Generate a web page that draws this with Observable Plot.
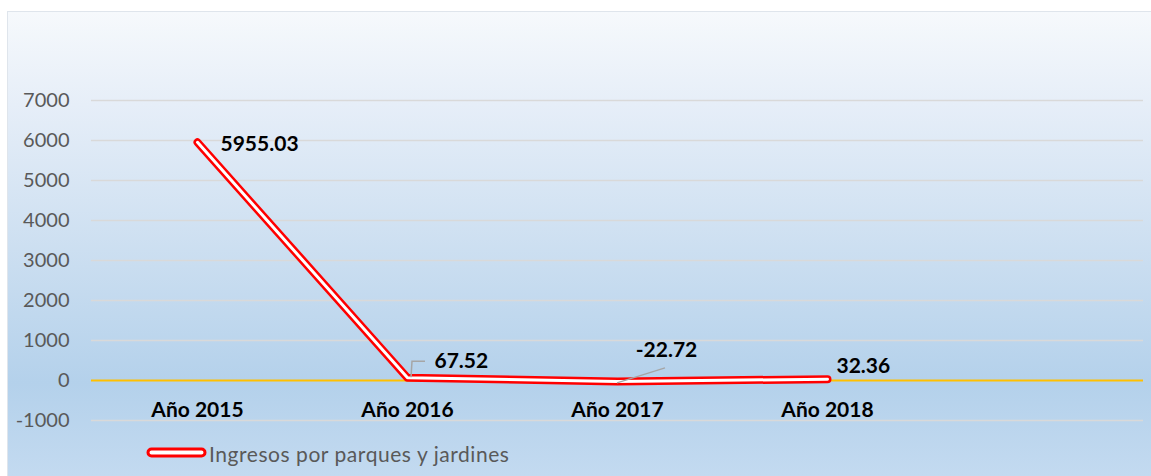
<!DOCTYPE html>
<html>
<head>
<meta charset="utf-8">
<script src="https://cdn.jsdelivr.net/npm/d3@7"></script>
<script src="https://cdn.jsdelivr.net/npm/@observablehq/plot@0.6"></script>
<style>
  html, body { margin: 0; padding: 0; background: #ffffff; width: 1151px; height: 476px; overflow: hidden; }
  #chart {
    position: absolute; left: 7px; top: 11px; width: 1144px; height: 465px;
    box-sizing: border-box; border-left: 1px solid #dfe5ec; border-top: 1px solid #dfe5ec;
    background: linear-gradient(to bottom, #f6f9fc 0%, #e6eef8 20%, #c9ddf0 55%, #b4d1eb 80%, #c3daf0 100%);
    font-family: Lato, "Open Sans", sans-serif;
  }
  #plot { position: absolute; left: -1px; top: -1px; }
  #legend { position: absolute; left: 138px; top: 429px; height: 24px; display: flex; align-items: center; }
  #legend span { font-size: 21px; letter-spacing: 0.55px; color: #595959; margin-left: 1px; }
</style>
</head>
<body>
<div id="chart">
  <div id="plot"></div>
  <div id="legend"></div>
</div>
<script>
const years = ["Año 2015", "Año 2016", "Año 2017", "Año 2018"];
const values = [5955.03, 67.52, -22.72, 32.36];
const labels = ["5955.03", "67.52", "-22.72", "32.36"];
const yTicks = [-1000, 0, 1000, 2000, 3000, 4000, 5000, 6000, 7000];
const seriesName = "Ingresos por parques y jardines";

// label placement (pixel offsets from the point) — style only
const labelDx = [23, 27, 49, 9];
const labelDy = [2, -17, -31, -13];
const labelAnchor = ["start", "start", "middle", "start"];

const data = years.map((y, i) => ({year: y, value: values[i], label: labels[i], dx: labelDx[i], dy: labelDy[i], anchor: labelAnchor[i]}));

const xDomain = [...years, ""];

const plot = Plot.plot({
  width: 1144,
  height: 430,
  marginTop: 89,
  marginBottom: 21,
  marginLeft: 84,
  marginRight: 8,
  style: {background: "transparent", overflow: "visible", fontFamily: "Lato, 'Open Sans', sans-serif"},
  x: {type: "point", domain: xDomain, padding: 0.5, axis: null},
  y: {domain: [-1000, 7000], ticks: yTicks, tickFormat: d => String(d), tickSize: 0, tickPadding: 22, label: null},
  marks: [
    Plot.ruleY(yTicks.filter(d => d !== 0), {stroke: "#d9d9d9", strokeWidth: 1.5}),
    Plot.ruleY([0], {stroke: "#ffc000", strokeWidth: 2}),
    Plot.axisY({ticks: yTicks, tickFormat: d => String(d), tickSize: 0, tickPadding: 22, fontSize: 20, fill: "#595959", label: null}),
    Plot.text(years, {x: d => d, y: 0, dy: 30, text: d => d, fontSize: 21, fontWeight: "bold", fill: "#000"}),
    Plot.line(data, {x: "year", y: "value", stroke: "#ff0000", strokeWidth: 8, strokeLinecap: "round", strokeLinejoin: "round"}),
    Plot.line(data, {x: "year", y: "value", stroke: "#ffffff", strokeWidth: 3, strokeLinecap: "round", strokeLinejoin: "round"}),
    ...data.map(d => Plot.text([d], {x: "year", y: "value", text: "label", dx: d.dx, dy: d.dy, textAnchor: d.anchor, fontSize: 21, fontWeight: "bold", fill: "#000"}))
  ]
});
document.getElementById("plot").appendChild(plot);

// leader lines from points to labels, positioned with the plot's own scales
const xs = plot.scale("x"), ys = plot.scale("y");
const svg = d3.select(plot);
const leaders = [
  {i: 1, pts: [[4, 0], [5, -16], [18, -16]]},
  {i: 2, pts: [[0, 2], [48, -13]]}
];
leaders.forEach(l => {
  const px = xs.apply(years[l.i]), py = ys.apply(values[l.i]);
  svg.append("path")
    .attr("d", d3.line()(l.pts.map(([a, b]) => [px + a, py + b])))
    .attr("fill", "none").attr("stroke", "#a6a6a6").attr("stroke-width", 1.5);
});

// legend
const lg = document.getElementById("legend");
lg.innerHTML = `<svg width="62" height="12"><rect x="2" y="2" width="57" height="7" rx="3.5" fill="#fff" stroke="#ff0000" stroke-width="3"/></svg><span>${seriesName}</span>`;
</script>
</body>
</html>
